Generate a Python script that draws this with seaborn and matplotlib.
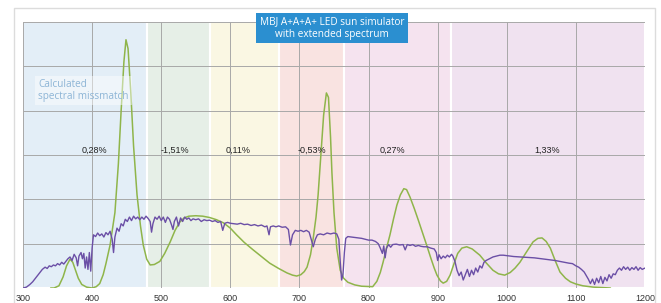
import matplotlib
matplotlib.use("Agg")
import matplotlib.pyplot as plt
import seaborn as sns
import pandas as pd
from matplotlib.patches import Rectangle

# AM1.5 reference spectrum (purple)
sun_wl = [300, 305, 310, 314, 318, 322, 325, 328, 332, 335, 338, 341, 344, 347, 350, 353, 356, 359, 362, 365,
          368, 371, 374, 377, 379, 381, 384, 386, 388, 390, 392, 394, 396, 398, 400, 402, 405, 408, 411, 414,
          417, 420, 423, 426, 429, 431, 433, 436, 439, 442, 445, 448, 451, 454, 457, 460, 463, 466, 469, 472,
          475, 478, 481, 484, 486, 488, 491, 494, 497, 500, 503, 506, 509, 512, 515, 517, 519, 522, 525, 528,
          531, 534, 537, 540, 543, 546, 550, 554, 558, 562, 566, 570, 574, 578, 582, 586, 589, 592, 596, 600,
          605, 610, 615, 620, 625, 630, 635, 640, 645, 650, 653, 656, 658, 662, 666, 670, 675, 680, 684, 687,
          690, 694, 698, 702, 706, 710, 714, 717, 720, 723, 726, 730, 735, 740, 745, 750, 754, 757, 759, 761,
          763, 765, 767, 770, 775, 780, 785, 790, 795, 800, 805, 810, 814, 817, 820, 822, 824, 826, 829, 832,
          835, 840, 845, 850, 853, 856, 860, 864, 868, 872, 876, 880, 885, 890, 895, 898, 900, 902, 905, 908,
          911, 914, 917, 920, 922, 925, 928, 931, 934, 937, 940, 943, 946, 949, 952, 955, 958, 961, 964, 967,
          970, 975, 980, 985, 990, 995, 1000, 1005, 1010, 1020, 1030, 1040, 1050, 1060, 1070, 1080, 1090, 1095,
          1100, 1104, 1108, 1112, 1115, 1118, 1121, 1124, 1127, 1130, 1133, 1136, 1139, 1142, 1145, 1148, 1151,
          1154, 1157, 1160, 1163, 1166, 1169, 1172, 1175, 1178, 1181, 1184, 1187, 1190, 1193, 1196, 1200]
sun_val = [0.0, 0.02, 0.08, 0.14, 0.22, 0.3, 0.36, 0.42, 0.47, 0.44, 0.5, 0.48, 0.52, 0.5, 0.55, 0.52, 0.58, 0.54, 0.6, 0.66,
           0.7, 0.62, 0.76, 0.68, 0.5, 0.72, 0.8, 0.66, 0.78, 0.45, 0.7, 0.42, 0.8, 0.38, 0.9, 1.2, 1.16, 1.24, 1.18, 1.22,
           1.15, 1.25, 1.2, 1.28, 1.1, 0.8, 1.15, 1.35, 1.28, 1.45, 1.4, 1.55, 1.5, 1.6, 1.52, 1.62, 1.56, 1.6, 1.54, 1.6,
           1.55, 1.62, 1.57, 1.5, 1.26, 1.45, 1.6, 1.55, 1.62, 1.52, 1.6, 1.48, 1.6, 1.55, 1.42, 1.32, 1.5, 1.6, 1.4, 1.58,
           1.5, 1.6, 1.55, 1.58, 1.52, 1.56, 1.54, 1.56, 1.5, 1.54, 1.52, 1.53, 1.5, 1.52, 1.48, 1.5, 1.3, 1.46, 1.48, 1.46,
           1.45, 1.44, 1.46, 1.43, 1.44, 1.41, 1.43, 1.4, 1.42, 1.38, 1.4, 1.2, 1.38, 1.4, 1.38, 1.4, 1.37, 1.38, 1.32, 0.97,
           1.2, 1.3, 1.28, 1.3, 1.27, 1.3, 1.26, 1.1, 0.93, 1.1, 1.2, 1.22, 1.2, 1.24, 1.22, 1.24, 1.22, 1.1, 0.6, 0.18,
           0.3, 0.8, 1.12, 1.16, 1.15, 1.14, 1.13, 1.12, 1.1, 1.08, 1.08, 1.05, 1.0, 0.9, 0.78, 0.95, 0.68, 0.9, 0.98, 0.92,
           0.98, 0.99, 0.97, 0.98, 0.86, 0.98, 0.96, 0.98, 0.94, 0.96, 0.94, 0.93, 0.93, 0.9, 0.88, 0.8, 0.62, 0.75, 0.66, 0.72,
           0.68, 0.74, 0.7, 0.76, 0.72, 0.6, 0.4, 0.28, 0.36, 0.18, 0.3, 0.42, 0.26, 0.4, 0.3, 0.45, 0.36, 0.5, 0.45, 0.58,
           0.62, 0.66, 0.7, 0.72, 0.74, 0.74, 0.73, 0.72, 0.71, 0.7, 0.69, 0.68, 0.66, 0.64, 0.62, 0.59, 0.56, 0.55,
           0.5, 0.47, 0.42, 0.36, 0.28, 0.2, 0.1, 0.2, 0.08, 0.22, 0.12, 0.26, 0.1, 0.24, 0.16, 0.3, 0.22,
           0.32, 0.3, 0.4, 0.45, 0.4, 0.48, 0.42, 0.47, 0.4, 0.46, 0.42, 0.48, 0.4, 0.46, 0.42, 0.45]

# LED simulator spectrum (green)
led_wl = [340, 345, 352, 358, 363, 368, 372, 376, 380, 385, 392, 400, 406, 411, 416, 420, 426, 433, 438, 442,
          446, 449, 452, 456, 460, 465, 470, 474, 479, 484, 490, 498, 505, 513, 520, 527, 533, 540, 550, 560,
          570, 580, 590, 600, 609, 620, 633, 645, 657, 670, 682, 690, 696, 702, 707, 711, 716, 720, 724, 727,
          731, 735, 739, 742, 745, 747, 750, 754, 759, 764, 770, 780, 790, 806, 812, 817, 821, 826, 831, 836,
          841, 846, 851, 855, 860, 866, 872, 878, 884, 890, 895, 899, 904, 908, 913, 918, 923, 929, 935, 942,
          950, 961, 970, 980, 988, 997, 1005, 1012, 1019, 1028, 1038, 1045, 1051, 1057, 1063, 1070, 1077, 1085,
          1092, 1100, 1110, 1125, 1150]
led_val = [0.0, 0.0, 0.05, 0.25, 0.5, 0.65, 0.58, 0.4, 0.22, 0.08, 0.02, 0.0, 0.03, 0.1, 0.3, 0.55, 0.97, 1.7, 2.8, 4.0,
           5.1, 5.6, 5.4, 4.4, 3.2, 2.1, 1.4, 0.97, 0.65, 0.52, 0.53, 0.6, 0.78, 1.04, 1.3, 1.49, 1.58, 1.62, 1.63, 1.62,
           1.59, 1.54, 1.47, 1.35, 1.2, 1.03, 0.86, 0.71, 0.56, 0.44, 0.34, 0.29, 0.27, 0.3, 0.37, 0.47, 0.75, 1.13, 1.6, 2.1,
           3.0, 3.9, 4.4, 4.3, 3.4, 2.6, 1.7, 0.9, 0.4, 0.22, 0.13, 0.07, 0.04, 0.03, 0.15, 0.35, 0.58, 0.9, 1.2, 1.55,
           1.87, 2.1, 2.24, 2.22, 2.05, 1.8, 1.53, 1.25, 0.97, 0.68, 0.45, 0.29, 0.16, 0.11, 0.15, 0.29, 0.52, 0.78, 0.9, 0.93,
           0.88, 0.74, 0.57, 0.4, 0.32, 0.29, 0.35, 0.45, 0.58, 0.8, 1.04, 1.12, 1.13, 1.05, 0.9, 0.62, 0.36, 0.22,
           0.14, 0.09, 0.05, 0.02, 0.0]

# colour bands and mismatch values
band_edges = [300, 480, 570, 670, 765, 920, 1200]
band_colors = ["#e3eef7", "#e6efe7", "#faf7e3", "#f9e3e1", "#f5e3ef", "#f0e2f0"]
mismatch_x = [404, 520, 611, 718, 834, 1058]
mismatch_lbl = ["0,28%", "-1,51%", "0,11%", "-0,53%", "0,27%", "1,33%"]

sns.set_style("white")

fig = plt.figure(figsize=(6.61, 3.03), dpi=100)
ax = fig.add_axes([23 / 661, 15 / 303, 622 / 661, 266 / 303])

for i in range(len(band_colors)):
    ax.axvspan(band_edges[i], band_edges[i + 1], facecolor=band_colors[i],
               edgecolor="white", linewidth=1.5, zorder=0)

sun = pd.DataFrame({"wl": sun_wl, "val": sun_val})
led = pd.DataFrame({"wl": led_wl, "val": led_val})
sns.lineplot(data=led, x="wl", y="val", ax=ax, color="#8fb54a", linewidth=1.1, estimator=None, zorder=3)
sns.lineplot(data=sun, x="wl", y="val", ax=ax, color="#6b4fa6", linewidth=1.0, estimator=None, zorder=4)

ax.set_xlim(300, 1200)
ax.set_ylim(0, 6)
ax.set_xticks(range(300, 1201, 100))
ax.set_yticks(range(0, 7))
ax.set_yticklabels([])
ax.set_xlabel("")
ax.set_ylabel("")
ax.set_axisbelow(True)
ax.grid(True, color="#a8a8a8", linewidth=0.7)
for s in ax.spines.values():
    s.set_visible(False)
ax.tick_params(axis="both", length=0, pad=4)
for lab in ax.get_xticklabels():
    lab.set_fontsize(6.5)
    lab.set_color("#333333")
    lab.set_family("Liberation Sans")

for x, t in zip(mismatch_x, mismatch_lbl):
    ax.text(x, 3.1, t, ha="center", va="center", fontsize=6.5, color="#222222",
            family="Liberation Sans", zorder=5)

ax.text(322, 4.45, "Calculated\nspectral missmatch", ha="left", va="center", fontsize=7.2,
        color="#8db5d6", family="Open Sans", linespacing=1.15, zorder=5,
        bbox=dict(facecolor="white", alpha=0.45, edgecolor="none", pad=2))

fig.text(332 / 661, 1 - 28 / 303, "MBJ A+A+A+ LED sun simulator\nwith extended spectrum",
         ha="center", va="center", fontsize=7.2, color="white", family="Open Sans",
         linespacing=1.15, zorder=10,
         bbox=dict(facecolor="#2b8fd0", edgecolor="none", pad=2.5))

# outer frame
fig.patches.append(Rectangle((14 / 661, -0.05), 641 / 661, 1.05 - 8 / 303, transform=fig.transFigure,
                             fill=False, edgecolor="#dcdcdc", linewidth=1.0))

fig.savefig("out.png", dpi=100)
